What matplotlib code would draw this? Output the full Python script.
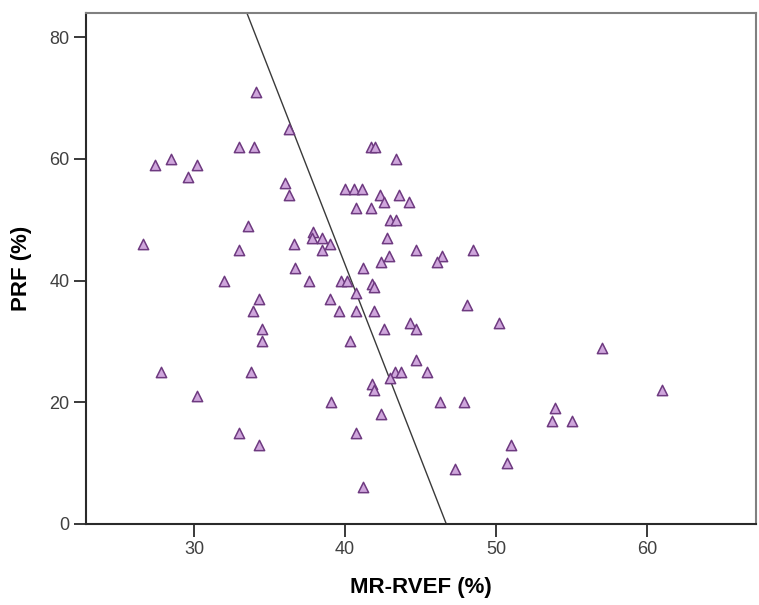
import matplotlib
matplotlib.use("Agg")
import matplotlib.pyplot as plt
import numpy as np

plt.rcParams['font.family'] = ['Liberation Sans', 'DejaVu Sans']

mr_rvef = [34.1, 33.0, 34.0, 27.4, 28.5, 29.6, 30.2, 33.6, 26.6, 33.0,
           32.0, 36.3, 41.7, 42.0, 43.4, 36.0, 36.3, 40.0, 40.6, 41.1,
           42.3, 42.6, 43.6, 44.2, 40.7, 41.7, 43.0, 43.4, 42.8, 36.6,
           37.9, 37.8, 38.5, 39.0, 38.5, 44.7, 48.5, 46.4, 46.1, 42.9,
           42.4, 36.7, 41.2, 37.6, 39.7, 40.1, 41.8, 41.9, 40.7, 48.1,
           34.3, 39.0, 33.9, 39.6, 40.7, 41.9, 34.5, 42.6, 44.3, 44.7,
           34.5, 40.3, 44.7, 33.8, 43.3, 43.7, 43.0, 45.4, 41.8, 41.9,
           39.1, 46.3, 47.9, 42.4, 33.0, 40.7, 34.3, 47.3, 41.2, 50.2,
           57.0, 61.0, 53.9, 53.7, 55.0, 51.0, 50.7, 27.8, 30.2]
prf = [71, 62, 62, 59, 60, 57, 59, 49, 46, 45,
       40, 65, 62, 62, 60, 56, 54, 55, 55, 55,
       54, 53, 54, 53, 52, 52, 50, 50, 47, 46,
       48, 47, 47, 46, 45, 45, 45, 44, 43, 44,
       43, 42, 42, 40, 40, 40, 39.5, 39, 38, 36,
       37, 37, 35, 35, 35, 35, 32, 32, 33, 32,
       30, 30, 27, 25, 25, 25, 24, 25, 23, 22,
       20, 20, 20, 18, 15, 15, 13, 9, 6, 33,
       29, 22, 19, 17, 17, 13, 10, 25, 21]

fit_intercept = 297.2
fit_slope = -6.364

xticks = [30, 40, 50, 60]
yticks = [0, 20, 40, 60, 80]

fig = plt.figure(figsize=(7.59, 6.05), dpi=100)
ax = fig.add_axes([0.1133, 0.134, 0.8827, 0.8445])

ax.scatter(mr_rvef, prf, marker='^', s=55, facecolor='#cfa6dc',
           edgecolor='#6e3a80', linewidths=1.1, zorder=3)

xx = np.array([20.0, 70.0])
ax.plot(xx, fit_intercept + fit_slope * xx, color='#3a3a3a', lw=1.0, zorder=2)

ax.set_xlim(22.85, 67.2)
ax.set_ylim(0, 84)
ax.set_xticks(xticks)
ax.set_yticks(yticks)

for side in ['left', 'bottom']:
    ax.spines[side].set_color('#2a2a2a')
    ax.spines[side].set_linewidth(1.5)
for side in ['top', 'right']:
    ax.spines[side].set_color('#808080')
    ax.spines[side].set_linewidth(1.5)

ax.tick_params(axis='both', direction='out', length=9, width=1.3,
               color='#2a2a2a', labelsize=13, labelcolor='#404040', pad=3)

ax.set_xlabel('MR-RVEF (%)', fontsize=16, fontweight='bold', labelpad=14)
ax.set_ylabel('PRF (%)', fontsize=16, fontweight='bold', labelpad=12)

fig.savefig('out.png', dpi=100, facecolor='white')
